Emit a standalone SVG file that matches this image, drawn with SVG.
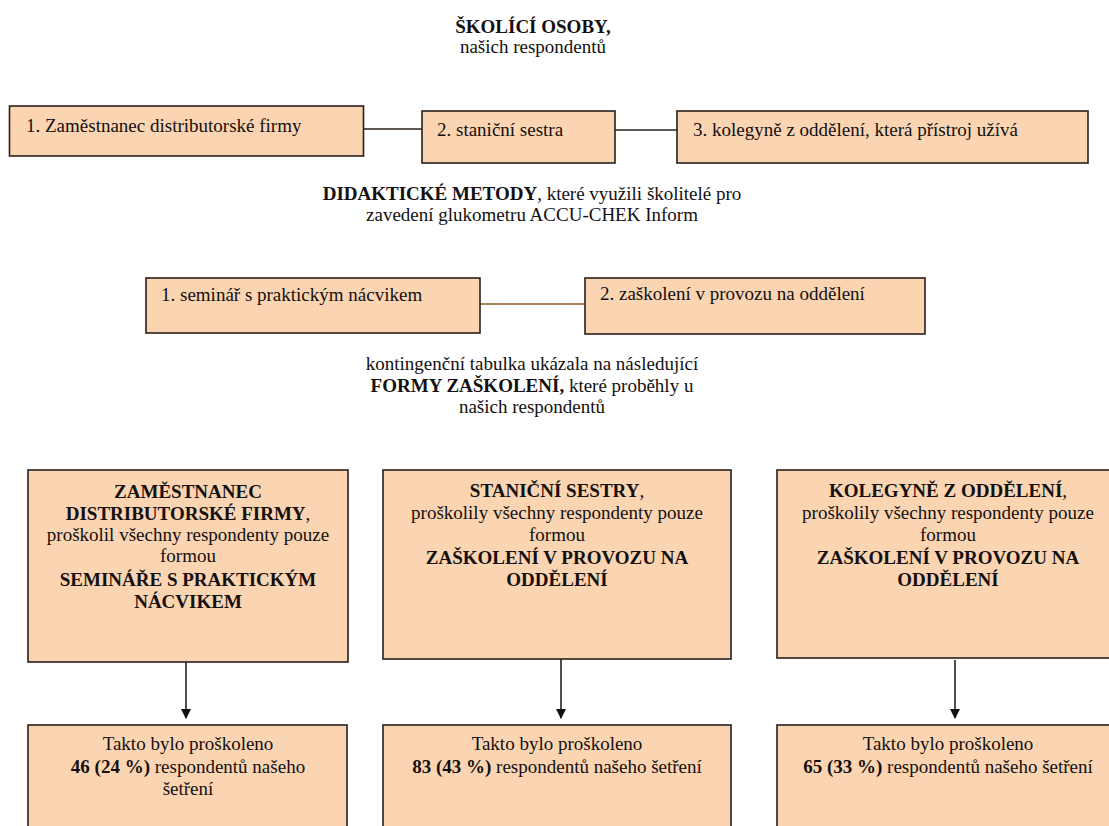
<svg xmlns="http://www.w3.org/2000/svg" width="1109" height="826" viewBox="0 0 1109 826">
<defs>
<style>
text{font-size:19px;fill:#141010}
.b{font-weight:bold}
.c{text-anchor:middle}
.box{fill:#FBD5B2;stroke:#2a2018;stroke-width:1.6}
.ln{stroke:#2a2018;stroke-width:1.6;fill:none}
.ln2{stroke:#a8845c;stroke-width:2;fill:none}
</style>
<marker id="ah" markerWidth="10" markerHeight="10" refX="9" refY="5" orient="auto" markerUnits="userSpaceOnUse">
<path d="M0,0 L10,5 L0,10 Z" fill="#141010"/>
</marker>
</defs>
<rect width="1109" height="826" fill="#ffffff"/>
<g font-family="Liberation Serif, Times New Roman, DejaVu Serif, serif">

<g id="title1">
<text class="b c" x="533" y="33">ŠKOLÍCÍ OSOBY,</text>
<text class="c" x="533" y="53">našich respondentů</text>
</g>

<g id="connectors">
<line class="ln" x1="363" y1="129" x2="422" y2="129"/>
<line class="ln" x1="615" y1="130" x2="677" y2="130"/>
<line class="ln2" x1="480" y1="304" x2="585" y2="304"/>
<line class="ln" x1="186" y1="662" x2="186" y2="718" stroke-width="2" marker-end="url(#ah)"/>
<line class="ln" x1="561" y1="659" x2="561" y2="718" stroke-width="2" marker-end="url(#ah)"/>
<line class="ln" x1="955" y1="660" x2="955" y2="718" stroke-width="2" marker-end="url(#ah)"/>
</g>

<g id="n1">
<rect class="box" x="9.5" y="106" width="354" height="50"/>
<text x="26" y="132">1. Zaměstnanec distributorské firmy</text>
</g>
<g id="n2">
<rect class="box" x="422" y="111" width="193" height="52"/>
<text x="437" y="136">2. staniční sestra</text>
</g>
<g id="n3">
<rect class="box" x="677" y="111" width="411" height="52"/>
<text x="693" y="136">3. kolegyně z oddělení, která přístroj užívá</text>
</g>

<g id="title2">
<text class="c" x="532" y="200"><tspan class="b">DIDAKTICKÉ METODY</tspan>, které využili školitelé pro</text>
<text class="c" x="532" y="221">zavedení glukometru ACCU-CHEK Inform</text>
</g>

<g id="n4">
<rect class="box" x="146" y="278" width="334" height="55"/>
<text x="161" y="301">1. seminář s praktickým nácvikem</text>
</g>
<g id="n5">
<rect class="box" x="585" y="278" width="340" height="56"/>
<text x="600" y="300">2. zaškolení v provozu na oddělení</text>
</g>

<g id="title3">
<text class="c" x="532" y="370">kontingenční tabulka ukázala na následující</text>
<text class="c" x="532" y="392"><tspan class="b">FORMY ZAŠKOLENÍ,</tspan> které proběhly u</text>
<text class="c" x="532" y="413">našich respondentů</text>
</g>

<g id="n6">
<rect class="box" x="28" y="470" width="320" height="192"/>
<text class="b c" x="188" y="498">ZAMĚSTNANEC</text>
<text class="c" x="188" y="520"><tspan class="b">DISTRIBUTORSKÉ FIRMY</tspan>,</text>
<text class="c" x="188" y="541">proškolil všechny respondenty pouze</text>
<text class="c" x="188" y="562">formou</text>
<text class="b c" x="188" y="586">SEMINÁŘE S PRAKTICKÝM</text>
<text class="b c" x="188" y="608">NÁCVIKEM</text>
</g>
<g id="n7">
<rect class="box" x="383" y="470" width="348" height="189"/>
<text class="c" x="557" y="497"><tspan class="b">STANIČNÍ SESTRY</tspan>,</text>
<text class="c" x="557" y="519">proškolily všechny respondenty pouze</text>
<text class="c" x="557" y="541">formou</text>
<text class="b c" x="557" y="564">ZAŠKOLENÍ V PROVOZU NA</text>
<text class="b c" x="557" y="586">ODDĚLENÍ</text>
</g>
<g id="n8">
<rect class="box" x="777" y="470" width="345" height="188"/>
<text class="c" x="948" y="497"><tspan class="b">KOLEGYNĚ Z ODDĚLENÍ</tspan>,</text>
<text class="c" x="948" y="519">proškolily všechny respondenty pouze</text>
<text class="c" x="948" y="541">formou</text>
<text class="b c" x="948" y="564">ZAŠKOLENÍ V PROVOZU NA</text>
<text class="b c" x="948" y="586">ODDĚLENÍ</text>
</g>

<g id="n9">
<rect class="box" x="28" y="725" width="319" height="130"/>
<text class="c" x="188" y="750">Takto bylo proškoleno</text>
<text class="c" x="188" y="773"><tspan class="b">46 (24 %)</tspan> respondentů našeho</text>
<text class="c" x="188" y="795">šetření</text>
</g>
<g id="n10">
<rect class="box" x="383" y="725" width="348" height="130"/>
<text class="c" x="557" y="750">Takto bylo proškoleno</text>
<text class="c" x="557" y="773"><tspan class="b">83 (43 %)</tspan> respondentů našeho šetření</text>
</g>
<g id="n11">
<rect class="box" x="777" y="725" width="345" height="130"/>
<text class="c" x="948" y="750">Takto bylo proškoleno</text>
<text class="c" x="948" y="773"><tspan class="b">65 (33 %)</tspan> respondentů našeho šetření</text>
</g>
</g>
</svg>
